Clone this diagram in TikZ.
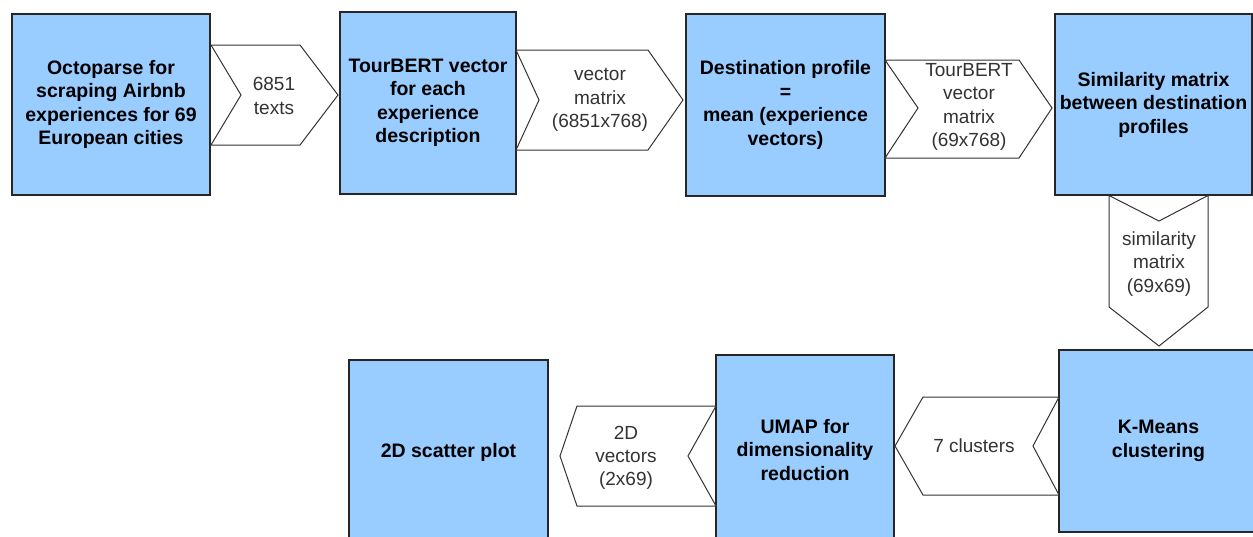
\documentclass[tikz,border=0pt]{standalone}
\usepackage{fontspec}
\setmainfont{Liberation Sans}
\begin{document}
\begin{tikzpicture}[x=1pt,y=-1pt,
  box/.style={draw=black!85,line width=1.1pt,fill=boxblue,inner sep=0pt,align=center,
    font=\fontsize{19.5}{23.5}\selectfont\bfseries},
  chev/.style={draw=black!80,line width=1pt,fill=white,line join=miter},
  lbl/.style={align=center,inner sep=0pt,font=\fontsize{19}{23.2}\selectfont,text=black!80}]
\definecolor{boxblue}{HTML}{99CCFF}
\useasboundingbox (0,0) rectangle (1253,536);
% boxes
\node[box,minimum width=198pt,minimum height=181pt] (b1) at (111,104.5)
  {Octoparse for\\scraping Airbnb\\experiences for 69\\European cities};
\node[box,minimum width=176pt,minimum height=182pt] (b2) at (428,103)
  {TourBERT vector\\for each\\experience\\description};
\node[box,minimum width=199pt,minimum height=182pt] (b3) at (785.5,105)
  {Destination profile\\=\\mean (experience\\vectors)};
\node[box,minimum width=197pt,minimum height=181pt] (b4) at (1153.5,104.5)
  {Similarity matrix\\between destination\\profiles};
\node[box,minimum width=199pt,minimum height=182pt] (b5) at (1158.5,441)
  {K-Means\\clustering};
\node[box,minimum width=178pt,minimum height=190pt] (b6) at (805,450)
  {UMAP for\\dimensionality\\reduction};
\node[box,minimum width=199pt,minimum height=185pt] (b7) at (448.5,452.5)
  {2D scatter plot};
% chevron connectors
\draw[chev] (211,45) -- (300,45) -- (338,95) -- (300,145) -- (211,145) -- (241,95) -- cycle;
\node[lbl] (t1) at (274,96) {6851\\texts};
\draw[chev] (516,50) -- (648,50) -- (683,100) -- (648,150) -- (516,150) -- (539,100) -- cycle;
\node[lbl] (t2) at (600,100) {vector\\matrix\\(6851x768)};
\draw[chev] (885,60) -- (1019,60) -- (1052,108) -- (1019,158) -- (885,158) -- (918,108) -- cycle;
\node[lbl] (t3) at (969,107) {TourBERT\\vector\\matrix\\(69x768)};
\draw[chev] (1109,195.5) -- (1159,221) -- (1208,195.5) -- (1208,307) -- (1159,346) -- (1109,307) -- cycle;
\node[lbl] (t4) at (1159,264) {similarity\\matrix\\(69x69)};
\draw[chev] (1059,397) -- (923,397) -- (895,446) -- (923,495) -- (1059,495) -- (1033,446) -- cycle;
\node[lbl] (t5) at (974,446) {7 clusters};
\draw[chev] (716,406) -- (577,406) -- (560,456) -- (577,506) -- (716,506) -- (688,456) -- cycle;
\node[lbl] (t6) at (626,458) {2D\\vectors\\(2x69)};
\end{tikzpicture}
\end{document}
